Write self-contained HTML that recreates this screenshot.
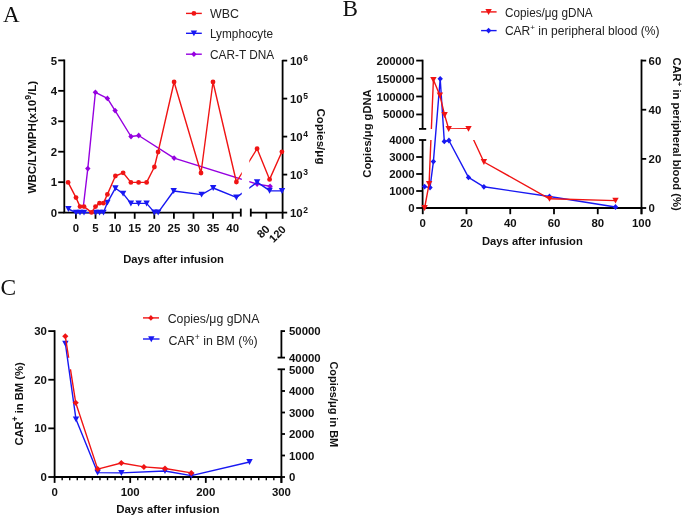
<!DOCTYPE html><html><head><meta charset="utf-8"><style>html,body{margin:0;padding:0;background:#fff;overflow:hidden;}svg{display:block;will-change:transform;}text{font-family:"Liberation Sans",sans-serif;fill:#111;}</style></head><body>
<svg width="685" height="517" viewBox="0 0 685 517">
<rect width="685" height="517" fill="#fff"/>
<text x="2.9" y="22.4" style="font-family:&quot;Liberation Serif&quot;,serif" font-size="23">A</text>
<line x1="186.00" y1="13.40" x2="201.80" y2="13.40" stroke="#f01414" stroke-width="1.4"/>
<circle cx="193.90" cy="13.40" r="2.4" fill="#f01414"/>
<text x="210.00" y="17.90" font-size="12.2" font-weight="normal" text-anchor="start"  style="fill:#222" textLength="28.90" lengthAdjust="spacingAndGlyphs">WBC</text>
<line x1="186.00" y1="33.30" x2="201.80" y2="33.30" stroke="#1818f2" stroke-width="1.4"/>
<polygon points="190.70,30.40 197.10,30.40 193.90,36.30" fill="#1818f2"/>
<text x="210.00" y="37.90" font-size="12.2" font-weight="normal" text-anchor="start"  style="fill:#222" textLength="63.10" lengthAdjust="spacingAndGlyphs">Lymphocyte</text>
<line x1="186.00" y1="54.20" x2="201.80" y2="54.20" stroke="#9600e0" stroke-width="1.4"/>
<polygon points="193.90,51.30 196.60,54.20 193.90,57.10 191.20,54.20" fill="#9600e0"/>
<text x="210.00" y="58.70" font-size="12.2" font-weight="normal" text-anchor="start"  style="fill:#222" textLength="64.20" lengthAdjust="spacingAndGlyphs">CAR-T DNA</text>
<line x1="64.30" y1="59.50" x2="64.30" y2="212.60" stroke="#000" stroke-width="1.8"/>
<line x1="58.20" y1="212.60" x2="64.30" y2="212.60" stroke="#000" stroke-width="1.8"/>
<text x="57.00" y="216.70" font-size="11.4" font-weight="bold" text-anchor="end" >0</text>
<line x1="58.20" y1="182.16" x2="64.30" y2="182.16" stroke="#000" stroke-width="1.8"/>
<text x="57.00" y="186.26" font-size="11.4" font-weight="bold" text-anchor="end" >1</text>
<line x1="58.20" y1="151.72" x2="64.30" y2="151.72" stroke="#000" stroke-width="1.8"/>
<text x="57.00" y="155.82" font-size="11.4" font-weight="bold" text-anchor="end" >2</text>
<line x1="58.20" y1="121.28" x2="64.30" y2="121.28" stroke="#000" stroke-width="1.8"/>
<text x="57.00" y="125.38" font-size="11.4" font-weight="bold" text-anchor="end" >3</text>
<line x1="58.20" y1="90.84" x2="64.30" y2="90.84" stroke="#000" stroke-width="1.8"/>
<text x="57.00" y="94.94" font-size="11.4" font-weight="bold" text-anchor="end" >4</text>
<line x1="58.20" y1="60.40" x2="64.30" y2="60.40" stroke="#000" stroke-width="1.8"/>
<text x="57.00" y="64.50" font-size="11.4" font-weight="bold" text-anchor="end" >5</text>
<line x1="63.40" y1="212.60" x2="240.80" y2="212.60" stroke="#000" stroke-width="1.8"/>
<line x1="240.80" y1="208.60" x2="240.80" y2="216.60" stroke="#000" stroke-width="1.8"/>
<line x1="75.90" y1="212.60" x2="75.90" y2="218.80" stroke="#000" stroke-width="1.8"/>
<text x="75.90" y="232.20" font-size="11.4" font-weight="bold" text-anchor="middle" >0</text>
<line x1="95.50" y1="212.60" x2="95.50" y2="218.80" stroke="#000" stroke-width="1.8"/>
<text x="95.50" y="232.20" font-size="11.4" font-weight="bold" text-anchor="middle" >5</text>
<line x1="115.10" y1="212.60" x2="115.10" y2="218.80" stroke="#000" stroke-width="1.8"/>
<text x="115.10" y="232.20" font-size="11.4" font-weight="bold" text-anchor="middle" >10</text>
<line x1="134.70" y1="212.60" x2="134.70" y2="218.80" stroke="#000" stroke-width="1.8"/>
<text x="134.70" y="232.20" font-size="11.4" font-weight="bold" text-anchor="middle" >15</text>
<line x1="154.30" y1="212.60" x2="154.30" y2="218.80" stroke="#000" stroke-width="1.8"/>
<text x="154.30" y="232.20" font-size="11.4" font-weight="bold" text-anchor="middle" >20</text>
<line x1="173.90" y1="212.60" x2="173.90" y2="218.80" stroke="#000" stroke-width="1.8"/>
<text x="173.90" y="232.20" font-size="11.4" font-weight="bold" text-anchor="middle" >25</text>
<line x1="193.50" y1="212.60" x2="193.50" y2="218.80" stroke="#000" stroke-width="1.8"/>
<text x="193.50" y="232.20" font-size="11.4" font-weight="bold" text-anchor="middle" >30</text>
<line x1="213.10" y1="212.60" x2="213.10" y2="218.80" stroke="#000" stroke-width="1.8"/>
<text x="213.10" y="232.20" font-size="11.4" font-weight="bold" text-anchor="middle" >35</text>
<line x1="232.70" y1="212.60" x2="232.70" y2="218.80" stroke="#000" stroke-width="1.8"/>
<text x="232.70" y="232.20" font-size="11.4" font-weight="bold" text-anchor="middle" >40</text>
<line x1="250.80" y1="212.60" x2="282.60" y2="212.60" stroke="#000" stroke-width="1.8"/>
<line x1="250.80" y1="208.60" x2="250.80" y2="216.60" stroke="#000" stroke-width="1.8"/>
<line x1="266.30" y1="212.60" x2="266.30" y2="218.80" stroke="#000" stroke-width="1.8"/>
<text x="270.4" y="229.9" font-size="11.4" font-weight="bold" text-anchor="end" transform="rotate(-45 270.4 229.9)">80</text>
<text x="286.6" y="230.2" font-size="11.0" font-weight="bold" text-anchor="end" transform="rotate(-45 286.6 230.2)">120</text>
<line x1="282.60" y1="59.90" x2="282.60" y2="218.80" stroke="#000" stroke-width="1.8"/>
<line x1="282.60" y1="212.60" x2="287.20" y2="212.60" stroke="#000" stroke-width="1.8"/>
<text x="289.9" y="216.50" font-size="11.4" font-weight="bold">10<tspan font-size="8.5" dx="0.6" dy="-3.8">2</tspan></text>
<line x1="282.60" y1="174.60" x2="287.20" y2="174.60" stroke="#000" stroke-width="1.8"/>
<text x="289.9" y="178.50" font-size="11.4" font-weight="bold">10<tspan font-size="8.5" dx="0.6" dy="-3.8">3</tspan></text>
<line x1="282.60" y1="136.60" x2="287.20" y2="136.60" stroke="#000" stroke-width="1.8"/>
<text x="289.9" y="140.50" font-size="11.4" font-weight="bold">10<tspan font-size="8.5" dx="0.6" dy="-3.8">4</tspan></text>
<line x1="282.60" y1="98.60" x2="287.20" y2="98.60" stroke="#000" stroke-width="1.8"/>
<text x="289.9" y="102.50" font-size="11.4" font-weight="bold">10<tspan font-size="8.5" dx="0.6" dy="-3.8">5</tspan></text>
<line x1="282.60" y1="60.60" x2="287.20" y2="60.60" stroke="#000" stroke-width="1.8"/>
<text x="289.9" y="64.50" font-size="11.4" font-weight="bold">10<tspan font-size="8.5" dx="0.6" dy="-3.8">6</tspan></text>
<text x="0" y="0" font-size="11.6" font-weight="bold" text-anchor="middle" transform="translate(35.6 137.2) rotate(-90)">WBC/LYMPH(x10<tspan font-size="8.6" dy="-5.0">9</tspan><tspan dy="5.0">/L)</tspan></text>
<text x="0" y="0" font-size="11.6" font-weight="bold" text-anchor="middle" transform="translate(317.4 136.5) rotate(90)">Copies/μg</text>
<text x="173.50" y="263.20" font-size="11.2" font-weight="bold" text-anchor="middle" >Days after infusion</text>
<defs><clipPath id="clipA"><rect x="0" y="0" width="241.8" height="517"/><rect x="249.3" y="0" width="100" height="517"/></clipPath></defs>
<polyline points="83.40,206.00 87.80,168.60 95.40,92.30 107.40,98.40 115.10,110.60 131.00,136.50 138.70,135.50 174.10,158.10 257.10,184.10 270.10,186.30" fill="none" stroke="#9600e0" stroke-width="1.4" stroke-linejoin="round" clip-path="url(#clipA)"/>
<polygon points="87.80,165.70 90.50,168.60 87.80,171.50 85.10,168.60" fill="#9600e0"/>
<polygon points="95.40,89.40 98.10,92.30 95.40,95.20 92.70,92.30" fill="#9600e0"/>
<polygon points="107.40,95.50 110.10,98.40 107.40,101.30 104.70,98.40" fill="#9600e0"/>
<polygon points="115.10,107.70 117.80,110.60 115.10,113.50 112.40,110.60" fill="#9600e0"/>
<polygon points="131.00,133.60 133.70,136.50 131.00,139.40 128.30,136.50" fill="#9600e0"/>
<polygon points="138.70,132.60 141.40,135.50 138.70,138.40 136.00,135.50" fill="#9600e0"/>
<polygon points="174.10,155.20 176.80,158.10 174.10,161.00 171.40,158.10" fill="#9600e0"/>
<polygon points="257.10,181.20 259.80,184.10 257.10,187.00 254.40,184.10" fill="#9600e0"/>
<polygon points="270.10,183.40 272.80,186.30 270.10,189.20 267.40,186.30" fill="#9600e0"/>
<polyline points="68.40,209.00 76.00,212.60 80.00,212.60 84.00,212.60 88.00,212.60 91.80,212.60 95.70,212.60 99.60,212.60 103.50,212.60 107.40,202.60 115.40,188.20 123.10,193.60 130.90,203.40 138.60,203.40 146.60,203.40 154.40,212.40 158.20,212.40 173.70,191.00 201.60,194.60 213.20,188.00 236.40,197.40 257.10,182.20 269.60,190.70 282.00,190.90" fill="none" stroke="#1818f2" stroke-width="1.4" stroke-linejoin="round" clip-path="url(#clipA)"/>
<polygon points="65.20,206.10 71.60,206.10 68.40,212.00" fill="#1818f2"/>
<polygon points="72.80,209.70 79.20,209.70 76.00,215.60" fill="#1818f2"/>
<polygon points="76.80,209.70 83.20,209.70 80.00,215.60" fill="#1818f2"/>
<polygon points="80.80,209.70 87.20,209.70 84.00,215.60" fill="#1818f2"/>
<polygon points="92.50,209.70 98.90,209.70 95.70,215.60" fill="#1818f2"/>
<polygon points="96.40,209.70 102.80,209.70 99.60,215.60" fill="#1818f2"/>
<polygon points="100.30,209.70 106.70,209.70 103.50,215.60" fill="#1818f2"/>
<polygon points="104.20,199.70 110.60,199.70 107.40,205.60" fill="#1818f2"/>
<polygon points="112.20,185.30 118.60,185.30 115.40,191.20" fill="#1818f2"/>
<polygon points="119.90,190.70 126.30,190.70 123.10,196.60" fill="#1818f2"/>
<polygon points="127.70,200.50 134.10,200.50 130.90,206.40" fill="#1818f2"/>
<polygon points="135.40,200.50 141.80,200.50 138.60,206.40" fill="#1818f2"/>
<polygon points="143.40,200.50 149.80,200.50 146.60,206.40" fill="#1818f2"/>
<polygon points="151.20,209.50 157.60,209.50 154.40,215.40" fill="#1818f2"/>
<polygon points="155.00,209.50 161.40,209.50 158.20,215.40" fill="#1818f2"/>
<polygon points="170.50,188.10 176.90,188.10 173.70,194.00" fill="#1818f2"/>
<polygon points="198.40,191.70 204.80,191.70 201.60,197.60" fill="#1818f2"/>
<polygon points="210.00,185.10 216.40,185.10 213.20,191.00" fill="#1818f2"/>
<polygon points="233.20,194.50 239.60,194.50 236.40,200.40" fill="#1818f2"/>
<polygon points="253.90,179.30 260.30,179.30 257.10,185.20" fill="#1818f2"/>
<polygon points="266.40,187.80 272.80,187.80 269.60,193.70" fill="#1818f2"/>
<polygon points="278.80,188.00 285.20,188.00 282.00,193.90" fill="#1818f2"/>
<polyline points="68.10,182.40 76.00,197.60 80.00,206.60 84.00,206.60 91.50,212.40 95.50,206.60 99.50,203.20 103.40,203.20 107.40,194.40 115.40,176.00 123.10,172.80 130.90,182.40 138.60,182.40 146.60,182.40 154.40,167.00 158.10,152.00 174.10,82.00 201.00,173.00 213.00,82.00 236.40,182.00 257.10,148.70 269.60,179.40 281.90,151.80" fill="none" stroke="#f01414" stroke-width="1.4" stroke-linejoin="round" clip-path="url(#clipA)"/>
<circle cx="68.10" cy="182.40" r="2.4" fill="#f01414"/>
<circle cx="76.00" cy="197.60" r="2.4" fill="#f01414"/>
<circle cx="80.00" cy="206.60" r="2.4" fill="#f01414"/>
<circle cx="84.00" cy="206.60" r="2.4" fill="#f01414"/>
<circle cx="91.50" cy="212.40" r="2.4" fill="#f01414"/>
<circle cx="95.50" cy="206.60" r="2.4" fill="#f01414"/>
<circle cx="99.50" cy="203.20" r="2.4" fill="#f01414"/>
<circle cx="103.40" cy="203.20" r="2.4" fill="#f01414"/>
<circle cx="107.40" cy="194.40" r="2.4" fill="#f01414"/>
<circle cx="115.40" cy="176.00" r="2.4" fill="#f01414"/>
<circle cx="123.10" cy="172.80" r="2.4" fill="#f01414"/>
<circle cx="130.90" cy="182.40" r="2.4" fill="#f01414"/>
<circle cx="138.60" cy="182.40" r="2.4" fill="#f01414"/>
<circle cx="146.60" cy="182.40" r="2.4" fill="#f01414"/>
<circle cx="154.40" cy="167.00" r="2.4" fill="#f01414"/>
<circle cx="158.10" cy="152.00" r="2.4" fill="#f01414"/>
<circle cx="174.10" cy="82.00" r="2.4" fill="#f01414"/>
<circle cx="201.00" cy="173.00" r="2.4" fill="#f01414"/>
<circle cx="213.00" cy="82.00" r="2.4" fill="#f01414"/>
<circle cx="236.40" cy="182.00" r="2.4" fill="#f01414"/>
<circle cx="257.10" cy="148.70" r="2.4" fill="#f01414"/>
<circle cx="269.60" cy="179.40" r="2.4" fill="#f01414"/>
<circle cx="281.90" cy="151.80" r="2.4" fill="#f01414"/>
<text x="342.5" y="16.4" style="font-family:&quot;Liberation Serif&quot;,serif" font-size="23.2">B</text>
<line x1="481.10" y1="11.90" x2="496.60" y2="11.90" stroke="#f01414" stroke-width="1.4"/>
<polygon points="485.40,9.00 491.80,9.00 488.60,14.90" fill="#f01414"/>
<text x="505.10" y="17.00" font-size="12.0" font-weight="normal" text-anchor="start"  style="fill:#222" textLength="87.60" lengthAdjust="spacingAndGlyphs">Copies/μg gDNA</text>
<line x1="481.10" y1="30.60" x2="496.60" y2="30.60" stroke="#1818f2" stroke-width="1.4"/>
<polygon points="488.60,27.70 491.30,30.60 488.60,33.50 485.90,30.60" fill="#1818f2"/>
<text x="504.90" y="35.00" font-size="12.0" font-weight="normal" text-anchor="start"  style="fill:#222" textLength="154.60" lengthAdjust="spacingAndGlyphs">CAR<tspan font-size="8" dy="-4.6">+</tspan><tspan dy="4.6"> in peripheral blood (%)</tspan></text>
<line x1="422.60" y1="59.70" x2="422.60" y2="128.90" stroke="#000" stroke-width="1.8"/>
<line x1="419.00" y1="128.90" x2="426.20" y2="128.90" stroke="#000" stroke-width="1.8"/>
<line x1="416.20" y1="114.45" x2="422.60" y2="114.45" stroke="#000" stroke-width="1.8"/>
<text x="414.60" y="118.45" font-size="11.4" font-weight="bold" text-anchor="end" >50000</text>
<line x1="416.20" y1="96.50" x2="422.60" y2="96.50" stroke="#000" stroke-width="1.8"/>
<text x="414.60" y="100.50" font-size="11.4" font-weight="bold" text-anchor="end" >100000</text>
<line x1="416.20" y1="78.55" x2="422.60" y2="78.55" stroke="#000" stroke-width="1.8"/>
<text x="414.60" y="82.55" font-size="11.4" font-weight="bold" text-anchor="end" >150000</text>
<line x1="416.20" y1="60.60" x2="422.60" y2="60.60" stroke="#000" stroke-width="1.8"/>
<text x="414.60" y="64.60" font-size="11.4" font-weight="bold" text-anchor="end" >200000</text>
<line x1="422.60" y1="140.00" x2="422.60" y2="208.00" stroke="#000" stroke-width="1.8"/>
<line x1="419.00" y1="140.00" x2="426.20" y2="140.00" stroke="#000" stroke-width="1.8"/>
<line x1="416.20" y1="208.00" x2="422.60" y2="208.00" stroke="#000" stroke-width="1.8"/>
<text x="414.60" y="212.00" font-size="11.4" font-weight="bold" text-anchor="end" >0</text>
<line x1="416.20" y1="191.00" x2="422.60" y2="191.00" stroke="#000" stroke-width="1.8"/>
<text x="414.60" y="195.00" font-size="11.4" font-weight="bold" text-anchor="end" >1000</text>
<line x1="416.20" y1="174.00" x2="422.60" y2="174.00" stroke="#000" stroke-width="1.8"/>
<text x="414.60" y="178.00" font-size="11.4" font-weight="bold" text-anchor="end" >2000</text>
<line x1="416.20" y1="157.00" x2="422.60" y2="157.00" stroke="#000" stroke-width="1.8"/>
<text x="414.60" y="161.00" font-size="11.4" font-weight="bold" text-anchor="end" >3000</text>
<text x="414.60" y="144.00" font-size="11.4" font-weight="bold" text-anchor="end" >4000</text>
<line x1="421.70" y1="208.00" x2="641.50" y2="208.00" stroke="#000" stroke-width="1.8"/>
<line x1="422.75" y1="208.00" x2="422.75" y2="214.20" stroke="#000" stroke-width="1.8"/>
<text x="422.75" y="226.60" font-size="11.4" font-weight="bold" text-anchor="middle" >0</text>
<line x1="466.50" y1="208.00" x2="466.50" y2="214.20" stroke="#000" stroke-width="1.8"/>
<text x="466.50" y="226.60" font-size="11.4" font-weight="bold" text-anchor="middle" >20</text>
<line x1="510.25" y1="208.00" x2="510.25" y2="214.20" stroke="#000" stroke-width="1.8"/>
<text x="510.25" y="226.60" font-size="11.4" font-weight="bold" text-anchor="middle" >40</text>
<line x1="554.00" y1="208.00" x2="554.00" y2="214.20" stroke="#000" stroke-width="1.8"/>
<text x="554.00" y="226.60" font-size="11.4" font-weight="bold" text-anchor="middle" >60</text>
<line x1="597.75" y1="208.00" x2="597.75" y2="214.20" stroke="#000" stroke-width="1.8"/>
<text x="597.75" y="226.60" font-size="11.4" font-weight="bold" text-anchor="middle" >80</text>
<line x1="641.50" y1="208.00" x2="641.50" y2="214.20" stroke="#000" stroke-width="1.8"/>
<text x="641.50" y="226.60" font-size="11.4" font-weight="bold" text-anchor="middle" >100</text>
<line x1="641.50" y1="59.50" x2="641.50" y2="214.20" stroke="#000" stroke-width="1.8"/>
<line x1="641.50" y1="208.00" x2="646.20" y2="208.00" stroke="#000" stroke-width="1.8"/>
<text x="648.60" y="212.00" font-size="11.4" font-weight="bold" text-anchor="start" >0</text>
<line x1="641.50" y1="158.87" x2="646.20" y2="158.87" stroke="#000" stroke-width="1.8"/>
<text x="648.60" y="162.87" font-size="11.4" font-weight="bold" text-anchor="start" >20</text>
<line x1="641.50" y1="109.73" x2="646.20" y2="109.73" stroke="#000" stroke-width="1.8"/>
<text x="648.60" y="113.73" font-size="11.4" font-weight="bold" text-anchor="start" >40</text>
<line x1="641.50" y1="60.60" x2="646.20" y2="60.60" stroke="#000" stroke-width="1.8"/>
<text x="648.60" y="64.60" font-size="11.4" font-weight="bold" text-anchor="start" >60</text>
<text x="0" y="0" font-size="11.2" font-weight="bold" text-anchor="middle" transform="translate(371.3 133.5) rotate(-90)">Copies/μg gDNA</text>
<text x="0" y="0" font-size="11.2" font-weight="bold" text-anchor="middle" transform="translate(672.7 134.0) rotate(90)">CAR<tspan font-size="8" dy="-4.6">+</tspan><tspan dy="4.6"> in peripheral blood (%)</tspan></text>
<text x="532.40" y="244.60" font-size="11.2" font-weight="bold" text-anchor="middle" >Days after infusion</text>
<defs><clipPath id="clipB"><rect x="340" y="0" width="345" height="128.9"/><rect x="340" y="140.0" width="345" height="200"/></clipPath></defs>
<polyline points="424.60,186.60 430.00,187.60 433.40,161.60 440.20,78.80 444.30,141.40 448.90,140.50 468.50,177.40 483.90,186.80 549.50,196.50 615.50,207.00" fill="none" stroke="#1818f2" stroke-width="1.4" stroke-linejoin="round"/>
<polygon points="424.60,183.70 427.30,186.60 424.60,189.50 421.90,186.60" fill="#1818f2"/>
<polygon points="430.00,184.70 432.70,187.60 430.00,190.50 427.30,187.60" fill="#1818f2"/>
<polygon points="433.40,158.70 436.10,161.60 433.40,164.50 430.70,161.60" fill="#1818f2"/>
<polygon points="440.20,75.90 442.90,78.80 440.20,81.70 437.50,78.80" fill="#1818f2"/>
<polygon points="444.30,138.50 447.00,141.40 444.30,144.30 441.60,141.40" fill="#1818f2"/>
<polygon points="448.90,137.60 451.60,140.50 448.90,143.40 446.20,140.50" fill="#1818f2"/>
<polygon points="468.50,174.50 471.20,177.40 468.50,180.30 465.80,177.40" fill="#1818f2"/>
<polygon points="483.90,183.90 486.60,186.80 483.90,189.70 481.20,186.80" fill="#1818f2"/>
<polygon points="549.50,193.60 552.20,196.50 549.50,199.40 546.80,196.50" fill="#1818f2"/>
<polygon points="615.50,204.10 618.20,207.00 615.50,209.90 612.80,207.00" fill="#1818f2"/>
<polyline points="424.60,208.00 429.10,183.90 433.40,79.80 439.90,95.40 444.60,115.00 448.70,128.90 468.50,128.80 483.90,162.00 549.50,198.80 615.50,200.60" fill="none" stroke="#f01414" stroke-width="1.4" stroke-linejoin="round" clip-path="url(#clipB)"/>
<polygon points="421.40,205.10 427.80,205.10 424.60,211.00" fill="#f01414"/>
<polygon points="425.90,181.00 432.30,181.00 429.10,186.90" fill="#f01414"/>
<polygon points="430.20,76.90 436.60,76.90 433.40,82.80" fill="#f01414"/>
<polygon points="436.70,92.50 443.10,92.50 439.90,98.40" fill="#f01414"/>
<polygon points="441.40,112.10 447.80,112.10 444.60,118.00" fill="#f01414"/>
<polygon points="445.50,126.00 451.90,126.00 448.70,131.90" fill="#f01414"/>
<polygon points="465.30,125.90 471.70,125.90 468.50,131.80" fill="#f01414"/>
<polygon points="480.70,159.10 487.10,159.10 483.90,165.00" fill="#f01414"/>
<polygon points="546.30,195.90 552.70,195.90 549.50,201.80" fill="#f01414"/>
<polygon points="612.30,197.70 618.70,197.70 615.50,203.60" fill="#f01414"/>
<text x="0.6" y="295" style="font-family:&quot;Liberation Serif&quot;,serif" font-size="23.4">C</text>
<line x1="143.00" y1="317.90" x2="159.00" y2="317.90" stroke="#f01414" stroke-width="1.4"/>
<polygon points="150.90,315.00 153.60,317.90 150.90,320.80 148.20,317.90" fill="#f01414"/>
<text x="167.70" y="323.30" font-size="12.1" font-weight="normal" text-anchor="start"  style="fill:#222" textLength="91.70" lengthAdjust="spacingAndGlyphs">Copies/μg gDNA</text>
<line x1="143.00" y1="339.00" x2="159.50" y2="339.00" stroke="#1818f2" stroke-width="1.4"/>
<polygon points="148.10,336.30 154.50,336.30 151.30,342.20" fill="#1818f2"/>
<text x="168.50" y="345.10" font-size="12.1" font-weight="normal" text-anchor="start"  style="fill:#222" textLength="89.10" lengthAdjust="spacingAndGlyphs">CAR<tspan font-size="8.4" dy="-4.8">+</tspan><tspan dy="4.8"> in BM (%)</tspan></text>
<line x1="54.60" y1="330.20" x2="54.60" y2="477.00" stroke="#000" stroke-width="1.8"/>
<line x1="48.30" y1="477.00" x2="54.60" y2="477.00" stroke="#000" stroke-width="1.8"/>
<text x="46.80" y="481.00" font-size="11.4" font-weight="bold" text-anchor="end" >0</text>
<line x1="48.30" y1="428.37" x2="54.60" y2="428.37" stroke="#000" stroke-width="1.8"/>
<text x="46.80" y="432.37" font-size="11.4" font-weight="bold" text-anchor="end" >10</text>
<line x1="48.30" y1="379.74" x2="54.60" y2="379.74" stroke="#000" stroke-width="1.8"/>
<text x="46.80" y="383.74" font-size="11.4" font-weight="bold" text-anchor="end" >20</text>
<line x1="48.30" y1="331.11" x2="54.60" y2="331.11" stroke="#000" stroke-width="1.8"/>
<text x="46.80" y="335.11" font-size="11.4" font-weight="bold" text-anchor="end" >30</text>
<line x1="53.70" y1="477.00" x2="281.40" y2="477.00" stroke="#000" stroke-width="1.8"/>
<line x1="54.60" y1="477.00" x2="54.60" y2="482.90" stroke="#000" stroke-width="1.8"/>
<text x="54.60" y="495.60" font-size="11.4" font-weight="bold" text-anchor="middle" >0</text>
<line x1="62.16" y1="477.00" x2="62.16" y2="480.20" stroke="#000" stroke-width="1.4"/>
<line x1="69.72" y1="477.00" x2="69.72" y2="480.20" stroke="#000" stroke-width="1.4"/>
<line x1="77.28" y1="477.00" x2="77.28" y2="480.20" stroke="#000" stroke-width="1.4"/>
<line x1="84.84" y1="477.00" x2="84.84" y2="480.20" stroke="#000" stroke-width="1.4"/>
<line x1="92.40" y1="477.00" x2="92.40" y2="480.20" stroke="#000" stroke-width="1.4"/>
<line x1="99.96" y1="477.00" x2="99.96" y2="480.20" stroke="#000" stroke-width="1.4"/>
<line x1="107.52" y1="477.00" x2="107.52" y2="480.20" stroke="#000" stroke-width="1.4"/>
<line x1="115.08" y1="477.00" x2="115.08" y2="480.20" stroke="#000" stroke-width="1.4"/>
<line x1="122.64" y1="477.00" x2="122.64" y2="480.20" stroke="#000" stroke-width="1.4"/>
<line x1="130.20" y1="477.00" x2="130.20" y2="482.90" stroke="#000" stroke-width="1.8"/>
<text x="130.20" y="495.60" font-size="11.4" font-weight="bold" text-anchor="middle" >100</text>
<line x1="137.76" y1="477.00" x2="137.76" y2="480.20" stroke="#000" stroke-width="1.4"/>
<line x1="145.32" y1="477.00" x2="145.32" y2="480.20" stroke="#000" stroke-width="1.4"/>
<line x1="152.88" y1="477.00" x2="152.88" y2="480.20" stroke="#000" stroke-width="1.4"/>
<line x1="160.44" y1="477.00" x2="160.44" y2="480.20" stroke="#000" stroke-width="1.4"/>
<line x1="168.00" y1="477.00" x2="168.00" y2="480.20" stroke="#000" stroke-width="1.4"/>
<line x1="175.56" y1="477.00" x2="175.56" y2="480.20" stroke="#000" stroke-width="1.4"/>
<line x1="183.12" y1="477.00" x2="183.12" y2="480.20" stroke="#000" stroke-width="1.4"/>
<line x1="190.68" y1="477.00" x2="190.68" y2="480.20" stroke="#000" stroke-width="1.4"/>
<line x1="198.24" y1="477.00" x2="198.24" y2="480.20" stroke="#000" stroke-width="1.4"/>
<line x1="205.80" y1="477.00" x2="205.80" y2="482.90" stroke="#000" stroke-width="1.8"/>
<text x="205.80" y="495.60" font-size="11.4" font-weight="bold" text-anchor="middle" >200</text>
<line x1="213.36" y1="477.00" x2="213.36" y2="480.20" stroke="#000" stroke-width="1.4"/>
<line x1="220.92" y1="477.00" x2="220.92" y2="480.20" stroke="#000" stroke-width="1.4"/>
<line x1="228.48" y1="477.00" x2="228.48" y2="480.20" stroke="#000" stroke-width="1.4"/>
<line x1="236.04" y1="477.00" x2="236.04" y2="480.20" stroke="#000" stroke-width="1.4"/>
<line x1="243.60" y1="477.00" x2="243.60" y2="480.20" stroke="#000" stroke-width="1.4"/>
<line x1="251.16" y1="477.00" x2="251.16" y2="480.20" stroke="#000" stroke-width="1.4"/>
<line x1="258.72" y1="477.00" x2="258.72" y2="480.20" stroke="#000" stroke-width="1.4"/>
<line x1="266.28" y1="477.00" x2="266.28" y2="480.20" stroke="#000" stroke-width="1.4"/>
<line x1="273.84" y1="477.00" x2="273.84" y2="480.20" stroke="#000" stroke-width="1.4"/>
<line x1="281.40" y1="477.00" x2="281.40" y2="482.90" stroke="#000" stroke-width="1.8"/>
<text x="281.40" y="495.60" font-size="11.4" font-weight="bold" text-anchor="middle" >300</text>
<line x1="281.40" y1="330.20" x2="281.40" y2="357.60" stroke="#000" stroke-width="1.8"/>
<line x1="277.60" y1="357.60" x2="285.00" y2="357.60" stroke="#000" stroke-width="1.8"/>
<line x1="281.40" y1="331.10" x2="285.00" y2="331.10" stroke="#000" stroke-width="1.8"/>
<text x="289.00" y="335.10" font-size="11.4" font-weight="bold" text-anchor="start" >50000</text>
<text x="289.00" y="361.60" font-size="11.4" font-weight="bold" text-anchor="start" >40000</text>
<line x1="281.40" y1="369.30" x2="281.40" y2="482.90" stroke="#000" stroke-width="1.8"/>
<line x1="277.60" y1="369.30" x2="285.00" y2="369.30" stroke="#000" stroke-width="1.8"/>
<line x1="281.40" y1="477.00" x2="285.00" y2="477.00" stroke="#000" stroke-width="1.8"/>
<text x="289.00" y="481.00" font-size="11.4" font-weight="bold" text-anchor="start" >0</text>
<line x1="281.40" y1="455.50" x2="285.00" y2="455.50" stroke="#000" stroke-width="1.8"/>
<text x="289.00" y="459.50" font-size="11.4" font-weight="bold" text-anchor="start" >1000</text>
<line x1="281.40" y1="434.00" x2="285.00" y2="434.00" stroke="#000" stroke-width="1.8"/>
<text x="289.00" y="438.00" font-size="11.4" font-weight="bold" text-anchor="start" >2000</text>
<line x1="281.40" y1="412.50" x2="285.00" y2="412.50" stroke="#000" stroke-width="1.8"/>
<text x="289.00" y="416.50" font-size="11.4" font-weight="bold" text-anchor="start" >3000</text>
<line x1="281.40" y1="391.00" x2="285.00" y2="391.00" stroke="#000" stroke-width="1.8"/>
<text x="289.00" y="395.00" font-size="11.4" font-weight="bold" text-anchor="start" >4000</text>
<text x="289.00" y="373.50" font-size="11.4" font-weight="bold" text-anchor="start" >5000</text>
<text x="0" y="0" font-size="11.2" font-weight="bold" text-anchor="middle" transform="translate(22.5 404.0) rotate(-90)">CAR<tspan font-size="8.4" dy="-4.8">+</tspan><tspan dy="4.8"> in BM (%)</tspan></text>
<text x="0" y="0" font-size="10.95" font-weight="bold" text-anchor="middle" transform="translate(330.0 404.3) rotate(90)">Copies/μg in BM</text>
<text x="167.90" y="513.10" font-size="11.5" font-weight="bold" text-anchor="middle" >Days after infusion</text>
<defs><clipPath id="clipC"><rect x="0" y="270" width="345" height="87.8"/><rect x="0" y="369.2" width="345" height="150"/></clipPath></defs>
<polyline points="65.40,343.70 76.00,419.30 97.60,472.60 121.40,472.90 165.00,471.00 191.30,475.60 249.50,462.00" fill="none" stroke="#1818f2" stroke-width="1.4" stroke-linejoin="round"/>
<polygon points="62.20,340.80 68.60,340.80 65.40,346.70" fill="#1818f2"/>
<polygon points="72.80,416.40 79.20,416.40 76.00,422.30" fill="#1818f2"/>
<polygon points="94.40,469.70 100.80,469.70 97.60,475.60" fill="#1818f2"/>
<polygon points="118.20,470.00 124.60,470.00 121.40,475.90" fill="#1818f2"/>
<polygon points="161.80,468.10 168.20,468.10 165.00,474.00" fill="#1818f2"/>
<polygon points="188.10,472.70 194.50,472.70 191.30,478.60" fill="#1818f2"/>
<polygon points="246.30,459.10 252.70,459.10 249.50,465.00" fill="#1818f2"/>
<polyline points="65.30,336.30 75.70,402.70 97.70,469.10 121.30,463.00 143.90,466.90 165.00,468.50 191.30,472.90" fill="none" stroke="#f01414" stroke-width="1.4" stroke-linejoin="round" clip-path="url(#clipC)"/>
<polygon points="65.30,333.30 68.40,336.30 65.30,339.30 62.20,336.30" fill="#f01414"/>
<polygon points="75.70,399.70 78.80,402.70 75.70,405.70 72.60,402.70" fill="#f01414"/>
<polygon points="97.70,466.10 100.80,469.10 97.70,472.10 94.60,469.10" fill="#f01414"/>
<polygon points="121.30,460.00 124.40,463.00 121.30,466.00 118.20,463.00" fill="#f01414"/>
<polygon points="143.90,463.90 147.00,466.90 143.90,469.90 140.80,466.90" fill="#f01414"/>
<polygon points="165.00,465.50 168.10,468.50 165.00,471.50 161.90,468.50" fill="#f01414"/>
<polygon points="191.30,469.90 194.40,472.90 191.30,475.90 188.20,472.90" fill="#f01414"/>
</svg></body></html>
